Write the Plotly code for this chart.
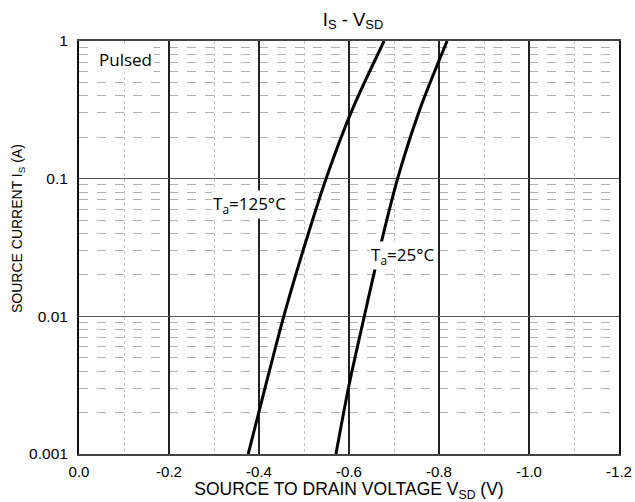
import plotly.graph_objects as go

# Source-drain diode forward characteristic (pulsed), sampled every half decade of I_S
vsd_125 = [-0.376, -0.415, -0.455, -0.500, -0.549, -0.607, -0.678]
is_125 = [0.001, 0.00316, 0.01, 0.0316, 0.1, 0.316, 1.0]

vsd_25 = [-0.571, -0.600, -0.634, -0.669, -0.708, -0.757, -0.818]
is_25 = [0.001, 0.00316, 0.01, 0.0316, 0.1, 0.316, 1.0]

x_ticks = [0.0, -0.2, -0.4, -0.6, -0.8, -1.0, -1.2]
x_tick_text = ["0.0", "-0.2", "-0.4", "-0.6", "-0.8", "-1.0", "-1.2"]
y_ticks = [0.001, 0.01, 0.1, 1]
y_tick_text = ["0.001", "0.01", "0.1", "1"]

AX_FONT = "Liberation Sans, Arial, sans-serif"
LBL_FONT = "Open Sans, Noto Sans, sans-serif"

fig = go.Figure()
for xs, ys in ((vsd_125, is_125), (vsd_25, is_25)):
    fig.add_trace(go.Scatter(
        x=xs, y=ys, mode="lines",
        line=dict(color="black", width=3, shape="spline", smoothing=0.8),
        showlegend=False, hoverinfo="skip"))

fig.update_layout(
    width=635, height=502,
    margin=dict(l=79, r=16, t=41, b=48),
    paper_bgcolor="white", plot_bgcolor="white",
    font=dict(family=AX_FONT, size=15, color="black"),
    title=dict(text="I<sub>S</sub> - V<sub>SD</sub>", x=0.556, xanchor="center",
               y=0.962, yanchor="middle", font=dict(family=AX_FONT, size=18.5)),
)

fig.update_xaxes(
    range=[0, -1.2], tickvals=x_ticks, ticktext=x_tick_text, automargin=False,
    showgrid=True, gridcolor="#222222", gridwidth=1.5,
    minor=dict(dtick=0.1, tick0=0, showgrid=True, gridcolor="#c4c4c4", griddash="dot", gridwidth=1),
    showline=True, linecolor="#444444", linewidth=2, mirror=True,
    zeroline=False, ticks="", tickfont=dict(size=15), ticklabelstandoff=3,
    title=dict(text="SOURCE TO DRAIN VOLTAGE V<sub>SD</sub> (V)", font=dict(size=17.5), standoff=3),
)
fig.update_yaxes(
    type="log", range=[-3, 0], tickvals=y_ticks, ticktext=y_tick_text, automargin=False,
    showgrid=True, gridcolor="#555555", gridwidth=1,
    minor=dict(dtick="D1", showgrid=True, gridcolor="#b0b0b0", griddash="dash", gridwidth=1),
    showline=True, linecolor="#111111", linewidth=2, mirror=True,
    zeroline=False, ticks="", tickfont=dict(size=15.5), ticklabelstandoff=6,
)

# Y-axis title placed as a rotated annotation
fig.add_annotation(text="SOURCE CURRENT I<sub>S</sub> (A)", textangle=-90,
                   x=18, xref="paper", y=229, yref="paper", showarrow=False,
                   xanchor="center", yanchor="middle", font=dict(family=AX_FONT, size=14))
fig.layout.annotations[-1].update(x=(18 - 79) / 540, y=(454 - 229) / 413)

# Annotation y positions are given in log10 units on the log axis
fig.add_annotation(text="Pulsed", x=-0.04, y=-0.131, xref="x", yref="y", xanchor="left",
                   yanchor="middle", showarrow=False, font=dict(family=LBL_FONT, size=17),
                   bgcolor="white")
fig.add_annotation(text="T<sub>a</sub>=125°C", x=-0.294, y=-1.19, xref="x", yref="y",
                   xanchor="left", yanchor="middle", showarrow=False,
                   font=dict(family=LBL_FONT, size=17), bgcolor="white")
fig.add_annotation(text="T<sub>a</sub>=25°C", x=-0.644, y=-1.555, xref="x", yref="y",
                   xanchor="left", yanchor="middle", showarrow=False,
                   font=dict(family=LBL_FONT, size=17), bgcolor="white")

fig.write_html("out.html")
